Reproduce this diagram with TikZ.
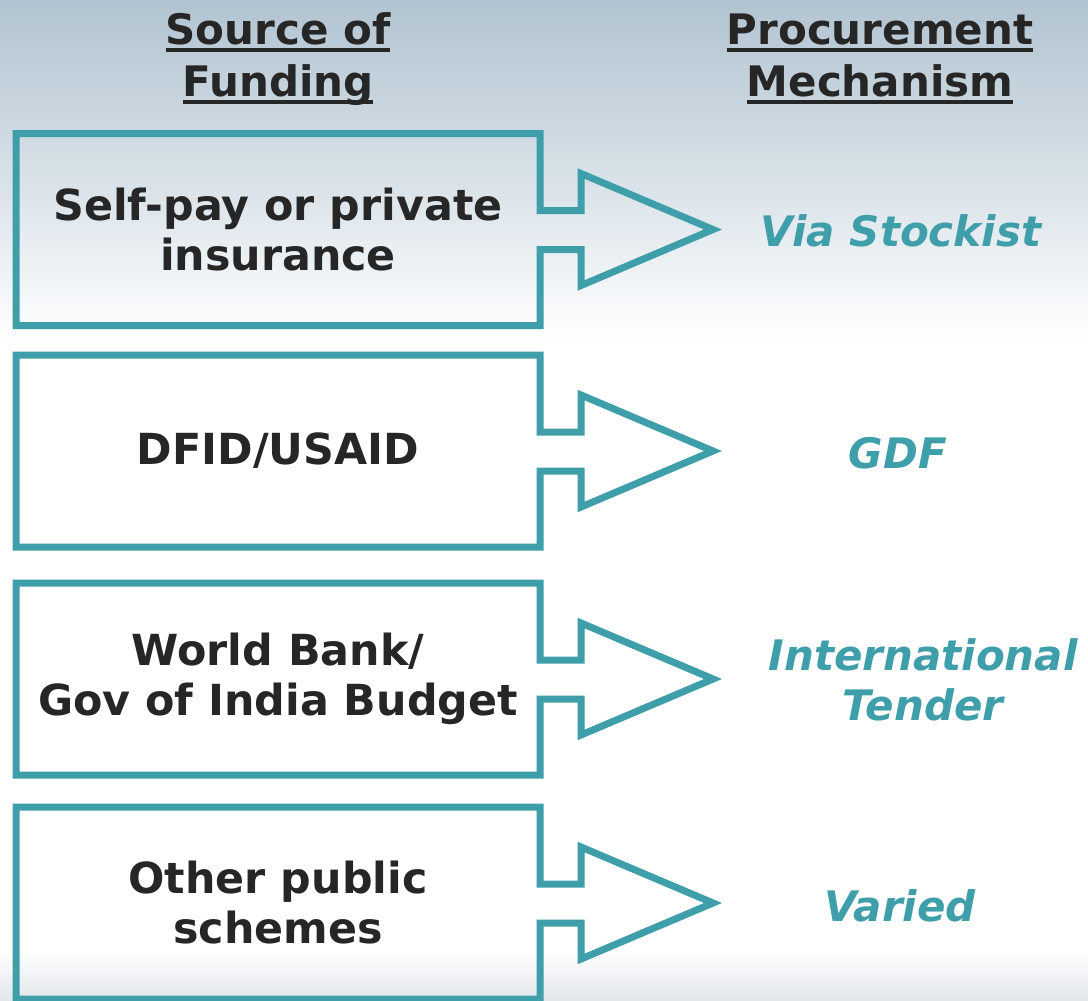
\documentclass[tikz,border=0pt]{standalone}
\usepackage{fontspec}
\setmainfont{DejaVu Sans}[BoldFont={DejaVu Sans Bold},ItalicFont={DejaVu Sans Oblique},BoldItalicFont={DejaVu Sans Bold Oblique}]
\usepackage{color}
\definecolor{tealline}{RGB}{62,158,169}
\definecolor{ink}{RGB}{38,38,38}
\definecolor{sky}{RGB}{178,196,209}
\definecolor{haze}{RGB}{214,224,231}
\definecolor{mist}{RGB}{226,231,236}
\newcommand{\ulline}[1]{\setbox0\hbox{#1}\rlap{\copy0}\rule[-4pt]{\wd0}{2pt}}

\begin{document}
\begin{tikzpicture}[x=0.5pt,y=-0.5pt,
  fund/.style={minimum width=262pt,minimum height=96pt,inner sep=0pt,outer sep=0pt,
    align=center,text=ink,font=\fontsize{21.4}{25}\selectfont\bfseries},
  mech/.style={align=center,text=tealline,font=\fontsize{21}{25}\selectfont\bfseries\itshape},
  head/.style={align=center,text=ink,font=\fontsize{21}{26}\selectfont\bfseries},
  outline/.style={draw=tealline,line width=3.5pt}]
  \shade[top color=sky,bottom color=haze] (0,0) rectangle (1088,170);
  \shade[top color=haze,bottom color=white] (0,170) rectangle (1088,340);
  \fill[white] (0,340) rectangle (1088,950);
  \shade[top color=white,bottom color=mist] (0,950) rectangle (1088,1001);
  \useasboundingbox (0,0) rectangle (1088,1001);

  \node[head] (hsrc) at (278,59) {\ulline{Source of}\\\ulline{Funding}};
  \node[head] (hmech) at (880,59) {\ulline{Procurement}\\\ulline{Mechanism}};

  \node[fund] (src1) at (278,229.5) {Self-pay or private\\insurance};
  \node[fund] (src2) at (278,451) {DFID/USAID};
  \node[fund] (src3) at (278,679) {World Bank/\\Gov of India Budget};
  \node[fund] (src4) at (278,903) {Other public\\schemes};

  \node[mech] (mech1) at (901,231) {Via Stockist};
  \node[mech] (mech2) at (898,453) {GDF};
  \node[mech] (mech3) at (923,680) {International\\Tender};
  \node[mech] (mech4) at (900,906) {Varied};

  \draw[outline] (src1.north west) -- (src1.north east) -- ++(0,77) -- ++(41,0) -- ++(0,-37)
    -- ++(132,56) -- ++(-132,56) -- ++(0,-36) -- ++(-41,0) |- (src1.south west) -- cycle;
  \draw[outline] (src2.north west) -- (src2.north east) -- ++(0,77) -- ++(41,0) -- ++(0,-37)
    -- ++(132,56) -- ++(-132,56) -- ++(0,-36) -- ++(-41,0) |- (src2.south west) -- cycle;
  \draw[outline] (src3.north west) -- (src3.north east) -- ++(0,77) -- ++(41,0) -- ++(0,-37)
    -- ++(132,56) -- ++(-132,56) -- ++(0,-36) -- ++(-41,0) |- (src3.south west) -- cycle;
  \draw[outline] (src4.north west) -- (src4.north east) -- ++(0,77) -- ++(41,0) -- ++(0,-37)
    -- ++(132,56) -- ++(-132,56) -- ++(0,-36) -- ++(-41,0) |- (src4.south west) -- cycle;
\end{tikzpicture}
\end{document}
